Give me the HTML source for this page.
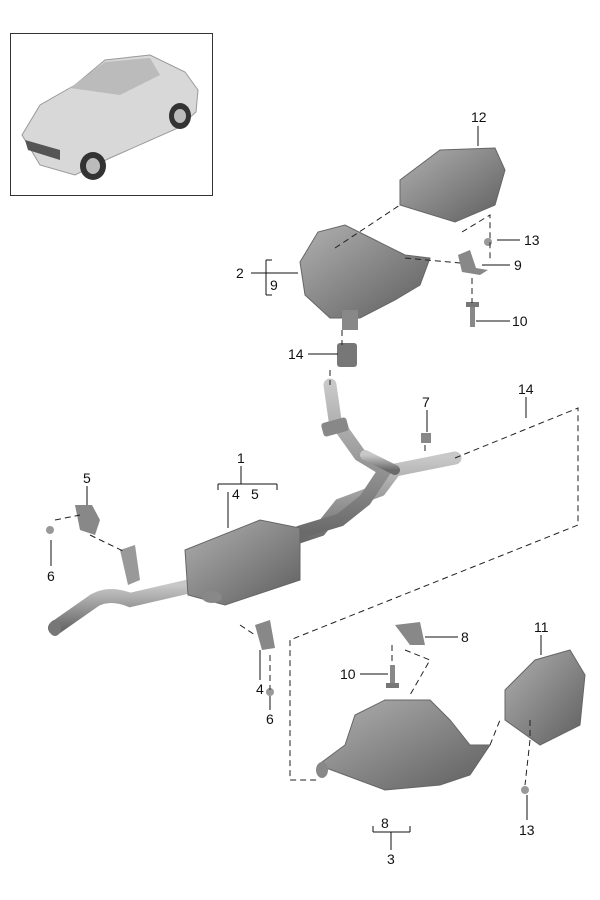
<!DOCTYPE html>
<html><head><meta charset="utf-8"><style>
html,body{margin:0;padding:0;background:#fff;width:600px;height:900px;overflow:hidden}
text{font-family:"Liberation Sans",sans-serif;font-size:14px;fill:#111}
</style></head><body>
<svg width="600" height="900" viewBox="0 0 600 900" xmlns="http://www.w3.org/2000/svg">
<defs>
<linearGradient id="g" x1="0" y1="0" x2="0" y2="1"><stop offset="0" stop-color="#c8c8c8"/><stop offset=".5" stop-color="#9a9a9a"/><stop offset="1" stop-color="#6a6a6a"/></linearGradient>
<linearGradient id="g2" x1="0" y1="0" x2="1" y2="1"><stop offset="0" stop-color="#b0b0b0"/><stop offset="1" stop-color="#5e5e5e"/></linearGradient>
</defs>
<!-- car inset -->
<rect x="10.5" y="33.5" width="202" height="162" fill="#fff" stroke="#333"/>
<path d="M22 135 L40 105 L75 85 L105 60 L150 55 L185 72 L198 90 L196 112 L178 128 L110 158 L75 175 L40 165 Z" fill="#d8d8d8" stroke="#999"/>
<path d="M70 88 L105 62 L150 58 L160 75 L120 95 Z" fill="#bbb"/>
<ellipse cx="93" cy="166" rx="13" ry="14" fill="#333"/><ellipse cx="93" cy="166" rx="7" ry="8" fill="#bbb"/>
<ellipse cx="180" cy="116" rx="11" ry="13" fill="#333"/><ellipse cx="180" cy="116" rx="6" ry="7" fill="#bbb"/>
<path d="M25 140 L60 150 L60 160 L28 150 Z" fill="#555"/>
<!-- pipes -->
<g fill="none" stroke="url(#g)" stroke-linecap="round">
<path d="M55 628 L95 600 Q110 592 130 600 L195 585" stroke-width="14"/>
<path d="M290 540 L320 530 L340 505 L380 490 L395 470 L455 458" stroke-width="13"/>
<path d="M300 532 L340 520 L365 500 L385 470 L360 455 L335 420 L330 385" stroke-width="13"/>
<path d="M395 470 L365 455" stroke-width="10"/>
</g>
<ellipse cx="55" cy="628" rx="6" ry="8" fill="#777"/>
<!-- muffler 1 -->
<path d="M185 550 L260 520 L300 528 L300 580 L225 605 L188 595 Z" fill="url(#g2)" stroke="#666"/>
<ellipse cx="212" cy="597" rx="10" ry="6" fill="#888"/>
<!-- muffler 2 -->
<path d="M300 262 L318 232 L345 225 L375 240 L405 255 L430 258 L420 285 L395 300 L360 318 L330 318 L305 295 Z" fill="url(#g2)" stroke="#666"/>
<rect x="342" y="310" width="16" height="20" fill="#888"/>
<rect x="337" y="343" width="20" height="24" fill="#777" rx="3"/>
<!-- tip 12 -->
<path d="M400 180 L440 150 L495 148 L505 170 L495 205 L455 222 L400 205 Z" fill="url(#g2)" stroke="#666"/>
<!-- bracket 9 top -->
<path d="M458 255 L470 250 L476 268 L488 270 L480 275 L462 272 Z" fill="#888"/>
<circle cx="488" cy="242" r="4" fill="#999"/>
<rect x="470" y="305" width="5" height="22" fill="#888"/><rect x="466" y="302" width="13" height="5" fill="#777"/>
<!-- 14 right -->
<rect x="322" y="420" width="26" height="14" fill="#888" rx="3" transform="rotate(-15 335 427)"/>
<!-- 7 -->
<rect x="421" y="433" width="10" height="10" fill="#888"/>
<!-- hangers -->
<path d="M75 505 L92 505 L100 520 L95 535 L80 530 Z" fill="#888"/>
<path d="M120 550 L135 545 L140 580 L128 585 Z" fill="#999"/>
<circle cx="50" cy="530" r="4" fill="#999"/>
<path d="M255 625 L270 620 L275 648 L262 650 Z" fill="#888"/>
<circle cx="270" cy="692" r="4" fill="#999"/>
<path d="M395 625 L420 622 L425 645 L410 645 Z" fill="#888"/>
<rect x="390" y="665" width="5" height="20" fill="#888"/><rect x="386" y="683" width="13" height="5" fill="#777"/>
<!-- muffler 3 -->
<path d="M318 765 L345 745 L355 715 L385 700 L430 700 L450 720 L470 745 L490 745 L470 775 L440 785 L385 790 L345 775 Z" fill="url(#g2)" stroke="#666"/>
<ellipse cx="322" cy="770" rx="6" ry="8" fill="#888"/>
<!-- tip 11 -->
<path d="M505 690 L535 660 L570 650 L585 675 L580 725 L540 745 L505 720 Z" fill="url(#g2)" stroke="#666"/>
<circle cx="525" cy="790" r="4" fill="#999"/>
<!-- dashed lines -->
<g stroke="#222" stroke-dasharray="6,4" fill="none" stroke-width="1">
<path d="M335 248 L400 205"/>
<path d="M405 258 L460 263"/>
<path d="M462 232 L490 215 L490 262"/>
<path d="M472 278 L472 303"/>
<path d="M342 330 L342 345"/>
<path d="M330 370 L330 385"/>
<path d="M455 458 L578 408 L578 525 L290 640 L290 780 L318 780"/>
<path d="M425 445 L425 455"/>
<path d="M55 520 L80 515"/>
<path d="M90 535 L125 552"/>
<path d="M240 625 L255 635"/>
<path d="M270 655 L270 690"/>
<path d="M405 650 L430 660 L410 695"/>
<path d="M392 645 L392 665"/>
<path d="M490 745 L500 720"/>
<path d="M530 720 L530 740 L525 785"/>
</g>
<!-- leader lines -->
<g stroke="#111" fill="none" stroke-width="1">
<path d="M478 126 L478 146"/>
<path d="M497 240 L520 240"/>
<path d="M251 273 L298 273 M266 260 L266 295 M266 260 L272 260 M266 295 L272 295"/>
<path d="M482 265 L510 265"/>
<path d="M476 321 L510 321"/>
<path d="M308 354 L338 354"/>
<path d="M427 410 L427 432"/>
<path d="M526 397 L526 418"/>
<path d="M241 466 L241 484 M218 484 L277 484 M218 484 L218 490 M277 484 L277 490 M228 492 L228 528"/>
<path d="M87 486 L87 505"/>
<path d="M51 540 L51 566"/>
<path d="M260 650 L260 680"/>
<path d="M270 696 L270 710"/>
<path d="M425 637 L458 637"/>
<path d="M360 674 L388 674"/>
<path d="M541 635 L541 655"/>
<path d="M527 795 L527 820"/>
<path d="M373 832 L410 832 M373 826 L373 832 M410 826 L410 832 M391 832 L391 850"/>
</g>
<text x="471" y="122">12</text>
<text x="524" y="245">13</text>
<text x="236" y="278">2</text>
<text x="270" y="290">9</text>
<text x="514" y="270">9</text>
<text x="512" y="326">10</text>
<text x="288" y="359">14</text>
<text x="422" y="407">7</text>
<text x="518" y="394">14</text>
<text x="237" y="463">1</text>
<text x="232" y="499">4</text>
<text x="251" y="499">5</text>
<text x="83" y="483">5</text>
<text x="47" y="581">6</text>
<text x="256" y="694">4</text>
<text x="266" y="724">6</text>
<text x="461" y="642">8</text>
<text x="340" y="679">10</text>
<text x="534" y="632">11</text>
<text x="519" y="835">13</text>
<text x="381" y="828">8</text>
<text x="387" y="864">3</text>
</svg>
</body></html>
